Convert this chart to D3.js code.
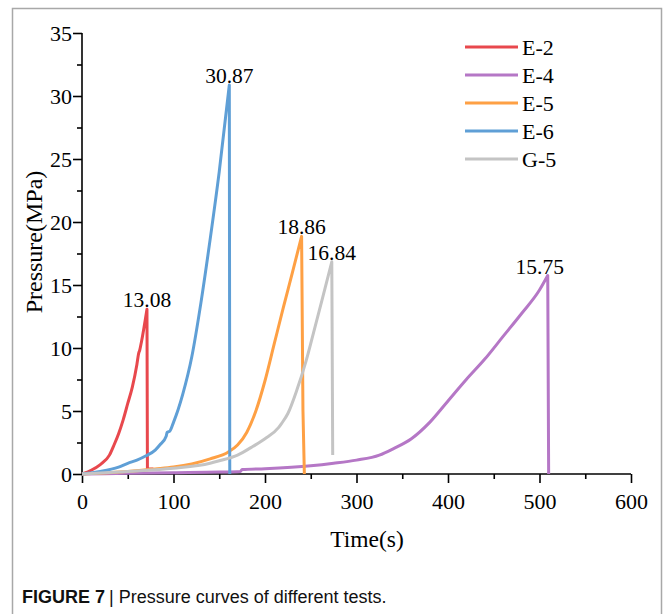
<!DOCTYPE html>
<html>
<head>
<meta charset="utf-8">
<script src="https://cdn.jsdelivr.net/npm/d3@7"></script>
<style>
  html, body { margin: 0; padding: 0; background: #fff; }
  svg { display: block; }
</style>
</head>
<body>
<svg id="chart" width="666" height="614"></svg>
<script>
// ---- data ----
const seriesNames = ["E-2", "E-4", "E-5", "E-6", "G-5"];
const seriesColors = ["#e8484d", "#b577c6", "#fea044", "#5f9fd6", "#c4c4c4"];

const timeE2 = [0, 10, 20, 30, 35, 40, 45, 50, 55, 60, 62, 63, 65, 71, 71.5, 78];
const presE2 = [0, 0.3, 0.75, 1.5, 2.3, 3.2, 4.3, 5.6, 6.9, 8.7, 9.6, 9.8, 10.5, 13.08, 0.4, 0.4];

const timeE4 = [0, 50, 100, 150, 173, 175, 200, 250, 275, 300, 325, 340, 360, 380, 400, 420, 440, 460, 480, 500, 509, 510];
const presE4 = [0, 0.05, 0.1, 0.15, 0.2, 0.35, 0.42, 0.65, 0.85, 1.1, 1.5, 2.0, 2.8, 4.1, 5.8, 7.5, 9.1, 10.9, 12.7, 14.6, 15.75, 0];

const timeE5 = [0, 50, 80, 100, 120, 140, 160, 170, 180, 190, 200, 210, 220, 230, 240, 241.5, 243];
const presE5 = [0, 0.2, 0.4, 0.55, 0.8, 1.2, 1.75, 2.3, 3.3, 5.0, 7.4, 10.3, 13.2, 16.0, 18.86, 5, 0];

const timeE6 = [0, 20, 40, 50, 60, 70, 80, 85, 92, 93, 96, 100, 105, 110, 120, 130, 140, 150, 161, 161.5];
const presE6 = [0, 0.2, 0.55, 0.85, 1.1, 1.45, 1.9, 2.3, 3.0, 3.3, 3.4, 4.1, 5.1, 6.3, 9.3, 13.6, 18.6, 24.0, 30.87, 0];

const timeG5 = [0, 50, 100, 140, 150, 170, 187, 200, 215, 218, 225, 235, 245, 253, 263, 273, 274];
const presG5 = [0, 0.2, 0.45, 0.85, 1.05, 1.5, 2.2, 2.8, 3.7, 4.0, 4.8, 6.7, 9.0, 11.2, 14.0, 16.84, 1.5];

const peakLabels = ["13.08", "15.75", "18.86", "30.87", "16.84"];

const xTicks = [0, 100, 200, 300, 400, 500, 600];
const yTicks = [0, 5, 10, 15, 20, 25, 30, 35];
const xMinor = [50, 150, 250, 350, 450, 550];
const yMinor = [2.5, 7.5, 12.5, 17.5, 22.5, 27.5, 32.5];

const xTitle = "Time(s)";
const yTitle = "Pressure(MPa)";
const captionBold = "FIGURE 7";
const captionText = "Pressure curves of different tests.";

// ---- build ----
const times = [timeE2, timeE4, timeE5, timeE6, timeG5];
const pres = [presE2, presE4, presE5, presE6, presG5];
const series = seriesNames.map((name, i) => ({
  name, color: seriesColors[i], label: peakLabels[i],
  values: times[i].map((t, j) => ({ t, p: pres[i][j] }))
}));

const svg = d3.select("#chart");
const serif = "'Liberation Serif', 'Times New Roman', serif";

// frame
svg.append("path")
  .attr("d", "M12.5,620 L12.5,8.5 L661.5,8.5 L661.5,620")
  .attr("fill", "none").attr("stroke", "#a8a8a8").attr("stroke-width", 1.5);

const x = d3.scaleLinear().domain([0, 600]).range([82, 631]);
const y = d3.scaleLinear().domain([0, 35]).range([474, 33]);

// axes
const xAxis = svg.append("g").attr("transform", `translate(0,${y(0)})`)
  .call(d3.axisBottom(x).tickValues(xTicks).tickSize(9).tickPadding(10).tickFormat(d3.format("d")));
const xAxisMinor = svg.append("g").attr("transform", `translate(0,${y(0)})`)
  .call(d3.axisBottom(x).tickValues(xMinor).tickSize(5).tickFormat(""));
const yAxis = svg.append("g").attr("transform", `translate(${x(0)},0)`)
  .call(d3.axisLeft(y).tickValues(yTicks).tickSize(9).tickPadding(1).tickFormat(d3.format("d")));
const yAxisMinor = svg.append("g").attr("transform", `translate(${x(0)},0)`)
  .call(d3.axisLeft(y).tickValues(yMinor).tickSize(5).tickFormat(""));

[xAxis, xAxisMinor, yAxis, yAxisMinor].forEach(g => {
  g.select(".domain").attr("stroke", "#000").attr("stroke-width", 1.6);
  g.selectAll(".tick line").attr("stroke", "#000").attr("stroke-width", 1.6);
  g.selectAll(".tick text").attr("fill", "#000").style("font-family", serif).style("font-size", "22px");
});
xAxisMinor.select(".domain").remove();
yAxisMinor.select(".domain").remove();
xAxis.select(".domain").attr("d", `M${x(0)},0H${x(600)}`);
yAxis.select(".domain").attr("d", `M0,${y(0)}V${y(35)}`);

// titles
svg.append("text").attr("x", 367).attr("y", 547).attr("text-anchor", "middle")
  .style("font-family", serif).style("font-size", "23.5px").text(xTitle);
svg.append("text").attr("transform", `translate(42,${242}) rotate(-90)`).attr("text-anchor", "middle")
  .style("font-family", serif).style("font-size", "24px").text(yTitle);

// lines: smooth rise (monotone) up to the peak, straight drop after it
const riseLine = d3.line().x(d => x(d.t)).y(d => y(d.p)).curve(d3.curveMonotoneX);
function pathFor(vals) {
  const iMax = d3.maxIndex(vals, v => v.p);
  const rise = riseLine(vals.slice(0, iMax + 1));
  const drop = vals.slice(iMax + 1).map(v => `L${x(v.t)},${y(v.p)}`).join("");
  return rise + drop;
}
svg.append("g").selectAll("path").data(series).join("path")
  .attr("d", d => pathFor(d.values))
  .attr("fill", "none").attr("stroke", d => d.color).attr("stroke-width", 3)
  .attr("stroke-linejoin", "round").attr("stroke-linecap", "butt");

// peak labels
const labelDx = { "E-4": -8 };
svg.append("g").selectAll("text").data(series).join("text")
  .attr("x", d => { const pk = d3.greatest(d.values, v => v.p); return x(pk.t) + (labelDx[d.name] || 0); })
  .attr("y", d => { const pk = d3.greatest(d.values, v => v.p); return y(pk.p) - 2; })
  .attr("text-anchor", "middle")
  .style("font-family", serif).style("font-size", "21.5px").text(d => d.label);

// legend
const leg = svg.append("g");
series.forEach((s, i) => {
  const yy = 47 + 28 * i;
  leg.append("line").attr("x1", 465).attr("x2", 518).attr("y1", yy).attr("y2", yy)
    .attr("stroke", s.color).attr("stroke-width", 3);
  leg.append("text").attr("x", 522).attr("y", yy + 7.5)
    .style("font-family", serif).style("font-size", "22px").text(s.name);
});

// caption
const cap = svg.append("text").attr("x", 22).attr("y", 603)
  .style("font-family", "'Liberation Sans', Arial, sans-serif").style("font-size", "18px").attr("fill", "#111");
cap.append("tspan").attr("font-weight", "bold").text(captionBold);
cap.append("tspan").attr("dx", 4).text("| " + captionText);
</script>
</body>
</html>
